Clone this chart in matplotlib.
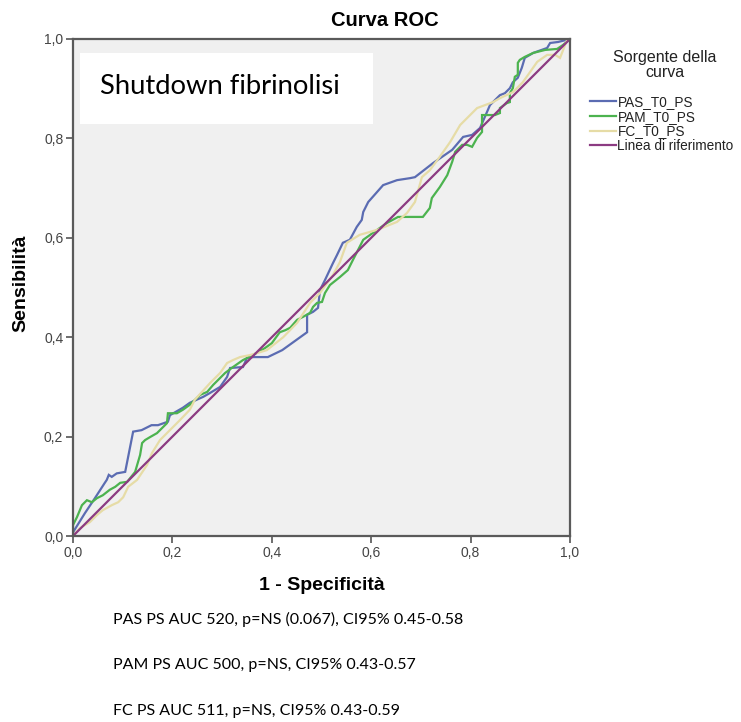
import matplotlib
matplotlib.use("Agg")
import matplotlib.pyplot as plt
from matplotlib.patches import Rectangle

        ################################################################
        #                    Dati                    #
        ################################################################

# PAS_T0_PS (1 - specificità, sensibilità)
pas_fpr = [0.000, 0.001, 0.024, 0.044, 0.064, 0.068, 0.072, 0.078, 0.088, 0.105,
           0.121, 0.138, 0.158, 0.171, 0.191, 0.195, 0.221, 0.235, 0.262, 0.276,
           0.296, 0.310, 0.316, 0.342, 0.350, 0.362, 0.392, 0.421, 0.471, 0.471,
           0.483, 0.493, 0.497, 0.507, 0.523, 0.531, 0.543, 0.557, 0.571, 0.581,
           0.584, 0.594, 0.624, 0.652, 0.678, 0.688, 0.724, 0.763, 0.785, 0.803,
           0.819, 0.839, 0.859, 0.869, 0.879, 0.885, 0.895, 0.903, 0.909, 0.926,
           0.954, 0.960, 0.976, 1.000]
pas_tpr = [0.000, 0.009, 0.046, 0.076, 0.107, 0.113, 0.123, 0.119, 0.126, 0.129,
           0.210, 0.213, 0.223, 0.223, 0.230, 0.243, 0.258, 0.268, 0.280, 0.288,
           0.300, 0.320, 0.338, 0.340, 0.358, 0.360, 0.360, 0.374, 0.410, 0.445,
           0.451, 0.459, 0.495, 0.515, 0.549, 0.565, 0.590, 0.596, 0.622, 0.636,
           0.652, 0.672, 0.706, 0.716, 0.720, 0.722, 0.750, 0.777, 0.803, 0.807,
           0.821, 0.867, 0.887, 0.891, 0.901, 0.913, 0.922, 0.942, 0.962, 0.972,
           0.982, 0.992, 0.994, 1.000]

# PAM_T0_PS
pam_fpr = [0.000, 0.000, 0.008, 0.018, 0.028, 0.038, 0.048, 0.060, 0.074, 0.085,
           0.095, 0.109, 0.125, 0.135, 0.139, 0.145, 0.155, 0.169, 0.189, 0.191,
           0.209, 0.221, 0.235, 0.256, 0.270, 0.282, 0.296, 0.306, 0.322, 0.342,
           0.362, 0.386, 0.400, 0.416, 0.427, 0.437, 0.451, 0.463, 0.477, 0.483,
           0.491, 0.501, 0.507, 0.517, 0.537, 0.553, 0.563, 0.584, 0.612, 0.632,
           0.654, 0.704, 0.718, 0.722, 0.738, 0.753, 0.763, 0.769, 0.783, 0.793,
           0.803, 0.813, 0.823, 0.823, 0.849, 0.859, 0.859, 0.873, 0.879, 0.879,
           0.885, 0.889, 0.895, 0.895, 0.899, 0.909, 0.926, 0.950, 0.974, 0.986,
           1.000]
pam_tpr = [0.000, 0.022, 0.038, 0.062, 0.072, 0.068, 0.076, 0.082, 0.093, 0.099,
           0.107, 0.109, 0.129, 0.163, 0.187, 0.193, 0.199, 0.207, 0.227, 0.247,
           0.247, 0.254, 0.264, 0.284, 0.290, 0.304, 0.318, 0.328, 0.340, 0.354,
           0.364, 0.378, 0.388, 0.410, 0.414, 0.419, 0.435, 0.441, 0.449, 0.461,
           0.469, 0.471, 0.489, 0.505, 0.521, 0.535, 0.555, 0.596, 0.616, 0.630,
           0.642, 0.642, 0.660, 0.680, 0.702, 0.726, 0.753, 0.773, 0.787, 0.787,
           0.783, 0.801, 0.813, 0.847, 0.847, 0.851, 0.861, 0.871, 0.873, 0.891,
           0.901, 0.924, 0.928, 0.952, 0.958, 0.964, 0.972, 0.978, 0.980, 0.988,
           1.000]

# FC_T0_PS
fc_fpr = [0.000, 0.014, 0.034, 0.048, 0.060, 0.078, 0.091, 0.101, 0.111, 0.129,
          0.149, 0.159, 0.175, 0.195, 0.215, 0.235, 0.245, 0.276, 0.296, 0.310,
          0.322, 0.336, 0.356, 0.370, 0.390, 0.423, 0.451, 0.477, 0.497, 0.523,
          0.537, 0.551, 0.577, 0.612, 0.652, 0.672, 0.688, 0.702, 0.718, 0.738,
          0.759, 0.779, 0.813, 0.845, 0.859, 0.885, 0.905, 0.920, 0.934, 0.954,
          0.970, 0.980, 0.994, 1.000]
fc_tpr = [0.000, 0.016, 0.028, 0.042, 0.052, 0.062, 0.068, 0.078, 0.099, 0.113,
          0.143, 0.167, 0.193, 0.213, 0.233, 0.254, 0.274, 0.308, 0.328, 0.348,
          0.354, 0.360, 0.364, 0.368, 0.374, 0.400, 0.429, 0.469, 0.489, 0.525,
          0.551, 0.590, 0.606, 0.616, 0.632, 0.650, 0.672, 0.722, 0.736, 0.763,
          0.793, 0.827, 0.861, 0.873, 0.881, 0.893, 0.913, 0.934, 0.954, 0.968,
          0.968, 0.962, 0.998, 1.000]

# Linea di riferimento
rif = [0.0, 1.0]

serie_nomi = ["PAS_T0_PS", "PAM_T0_PS", "FC_T0_PS", "Linea di riferimento"]
serie_colori = ["#5b6cb2", "#4cb34f", "#e6dca6", "#8c3b82"]

note = ["PAS PS AUC 520, p=NS (0.067), CI95% 0.45-0.58",
        "PAM PS AUC 500, p=NS, CI95% 0.43-0.57",
        "FC PS AUC 511, p=NS, CI95% 0.43-0.59"]

ticks = [0.0, 0.2, 0.4, 0.6, 0.8, 1.0]

        ################################################################
        #                           Figura                             #
        ################################################################

plt.rcParams["font.family"] = ["Liberation Sans", "DejaVu Sans"]

fig = plt.figure(figsize=(7.41, 7.22), dpi=100)
ax = fig.add_axes([73 / 741, 186 / 722, 497 / 741, 497 / 722])
ax.set_facecolor("#f0f0f0")

curve = [(pas_fpr, pas_tpr), (pam_fpr, pam_tpr), (fc_fpr, fc_tpr), (rif, rif)]
for (xs, ys), nome, col in zip(curve, serie_nomi, serie_colori):
    ax.plot(xs, ys, color=col, lw=1.6, label=nome, solid_joinstyle="miter")

# riquadro bianco col titolo interno
ax.add_patch(Rectangle((0.014, 0.829), 0.59, 0.143, facecolor="white",
                       edgecolor="none", zorder=1))
ax.text(0.055, 0.905, "Shutdown fibrinolisi", fontsize=19.7, family="Lato",
        va="center", ha="left", zorder=3)

ax.set_xlim(0, 1)
ax.set_ylim(0, 1)
ax.set_xticks(ticks)
ax.set_yticks(ticks)
ax.set_xticklabels([f"{t:.1f}".replace(".", ",") for t in ticks])
ax.set_yticklabels([f"{t:.1f}".replace(".", ",") for t in ticks])
ax.tick_params(direction="out", length=5, width=1.2, color="#555555",
               labelsize=10, labelcolor="#444444", pad=2)
for sp in ax.spines.values():
    sp.set_color("#5a5a5a")
    sp.set_linewidth(1.6)

# titolo centrato sull'intera area del grafico (stile SPSS)
fig.text(385 / 741, 1 - 20 / 722, "Curva ROC", fontsize=14.5, fontweight="bold",
         ha="center", va="center")
fig.text(322 / 741, 1 - 585 / 722, "1 - Specificità", fontsize=14,
         fontweight="bold", ha="center", va="center")
fig.text(21 / 741, 1 - 283 / 722, "Sensibilità", fontsize=14,
         fontweight="bold", ha="center", va="center", rotation=90)

# legenda
fig.text(665 / 741, 1 - 65 / 722, "Sorgente della\ncurva", fontsize=11.5,
         ha="center", va="center", multialignment="center", linespacing=0.95,
         color="#222222")
leg = fig.legend(loc="upper left", bbox_to_anchor=(590 / 741, 1 - 95 / 722),
                 frameon=False, fontsize=9.8, handlelength=1.9,
                 handletextpad=0.12, labelspacing=0.05, borderaxespad=0,
                 borderpad=0)
for t in leg.get_texts():
    t.set_color("#222222")

# note sotto il grafico
for i, testo in enumerate(note):
    fig.text(113 / 741, 1 - (619 + 46 * i) / 722, testo, family="Lato",
             fontsize=11.5, va="center", ha="left")

fig.savefig("out.png", dpi=100, facecolor="white")
